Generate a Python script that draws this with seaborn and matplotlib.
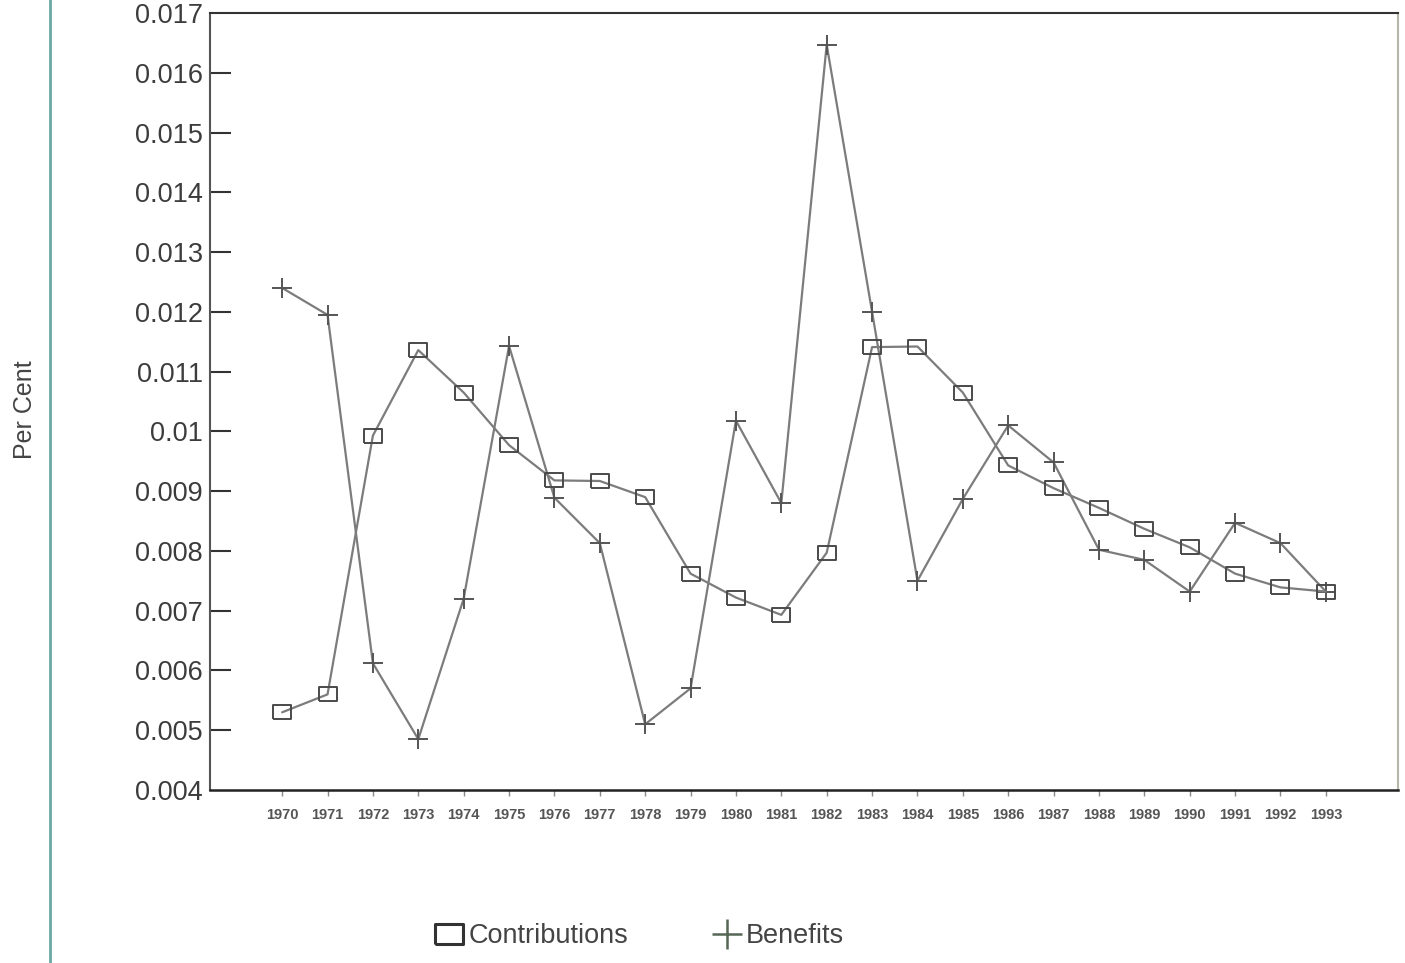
import matplotlib
matplotlib.use("Agg")
import matplotlib.pyplot as plt
from matplotlib.lines import Line2D
import seaborn as sns
import pandas as pd

years = list(range(1970, 1994))
contributions = [0.0053, 0.0056, 0.00993, 0.01136, 0.01065, 0.00977, 0.00918, 0.00917,
                 0.0089, 0.00762, 0.00722, 0.00693, 0.00797, 0.01141, 0.01142, 0.01065,
                 0.00943, 0.00905, 0.00872, 0.00837, 0.00806, 0.00762, 0.00739, 0.00732]
benefits = [0.0124, 0.01195, 0.00612, 0.00485, 0.0072, 0.01143, 0.00889, 0.00813,
            0.0051, 0.0057, 0.01018, 0.0088, 0.01647, 0.0120, 0.0075, 0.00887,
            0.0101, 0.00948, 0.00802, 0.00785, 0.00732, 0.00847, 0.00813, 0.00732]
y_ticks = [0.004, 0.005, 0.006, 0.007, 0.008, 0.009, 0.01, 0.011, 0.012, 0.013,
           0.014, 0.015, 0.016, 0.017]
y_tick_labels = ["0.004", "0.005", "0.006", "0.007", "0.008", "0.009", "0.01",
                 "0.011", "0.012", "0.013", "0.014", "0.015", "0.016", "0.017"]
series_names = ["Contributions", "Benefits"]

sns.set_style("white")
plt.rcParams['font.family'] = ['Liberation Sans', 'DejaVu Sans']

fig = plt.figure(figsize=(14.05, 9.63), dpi=100)
ax = fig.add_axes([210/1405, 1-790/963, (1398-210)/1405, (790-13)/963])

df = pd.DataFrame({"year": years, "Contributions": contributions, "Benefits": benefits})

rect = [(-1.35, -1), (1.35, -1), (1.35, 1), (-1.35, 1), (-1.35, -1)]
line_col = "#7c7c7c"

sns.lineplot(data=df, x="year", y="Benefits", ax=ax, color=line_col, linewidth=1.6,
             marker="+", markersize=14, markeredgewidth=1.4, markeredgecolor="#555555")
sns.lineplot(data=df, x="year", y="Contributions", ax=ax, color=line_col, linewidth=1.6,
             marker=rect, markersize=13, markeredgewidth=1.4, markeredgecolor="#4a4a4a",
             markerfacecolor="none")

ax.set_xlim(1970 - 1.59, 1993 + 1.59)
ax.set_ylim(0.004, 0.017)
ax.set_yticks(y_ticks)
ax.set_yticklabels(y_tick_labels)
ax.set_xticks(years)
ax.set_xticklabels([str(y) for y in years], fontweight="bold")

ax.tick_params(axis="y", direction="in", length=15, width=1.5, color="#333333",
               labelsize=19.5, labelcolor="#3c3c3c", pad=5, left=True)
ax.tick_params(axis="x", direction="out", length=4, width=1, color="#888888",
               labelsize=10.5, labelcolor="#555555", pad=9, bottom=True)

for t in ax.yaxis.get_major_ticks():
    if t.get_loc() in (0.004, 0.017):
        t.tick1line.set_visible(False)

ax.spines["left"].set_color("#555555")
ax.spines["left"].set_linewidth(1.5)
ax.spines["top"].set_color("#333333")
ax.spines["top"].set_linewidth(1.5)
ax.spines["bottom"].set_color("#222222")
ax.spines["bottom"].set_linewidth(1.8)
ax.spines["right"].set_color("#b5b8a8")
ax.spines["right"].set_linewidth(1.5)

ax.set_xlabel("")
ax.set_ylabel("Per Cent", fontsize=18, color="#444444")
ax.yaxis.set_label_coords(-(210-37)/1188, (790-410)/777)

# page edge line from the scan
fig.add_artist(Line2D([50/1405, 50/1405], [0, 1], transform=fig.transFigure,
                      color="#6aa8a6", linewidth=2))

handles = [
    Line2D([], [], linestyle="none", marker=rect, markersize=20, markeredgewidth=2.2,
           markeredgecolor="#333333", markerfacecolor="none"),
    Line2D([], [], linestyle="none", marker="+", markersize=22, markeredgewidth=1.8,
           markeredgecolor="#556655"),
]
fig.legend(handles, series_names, loc="center", bbox_to_anchor=(638/1405, 1-936/963),
           ncol=2, frameon=False, fontsize=19.5, handletextpad=0.05, columnspacing=3.0,
           handlelength=1.3, labelcolor="#444444")

fig.savefig("out.png", dpi=100)
